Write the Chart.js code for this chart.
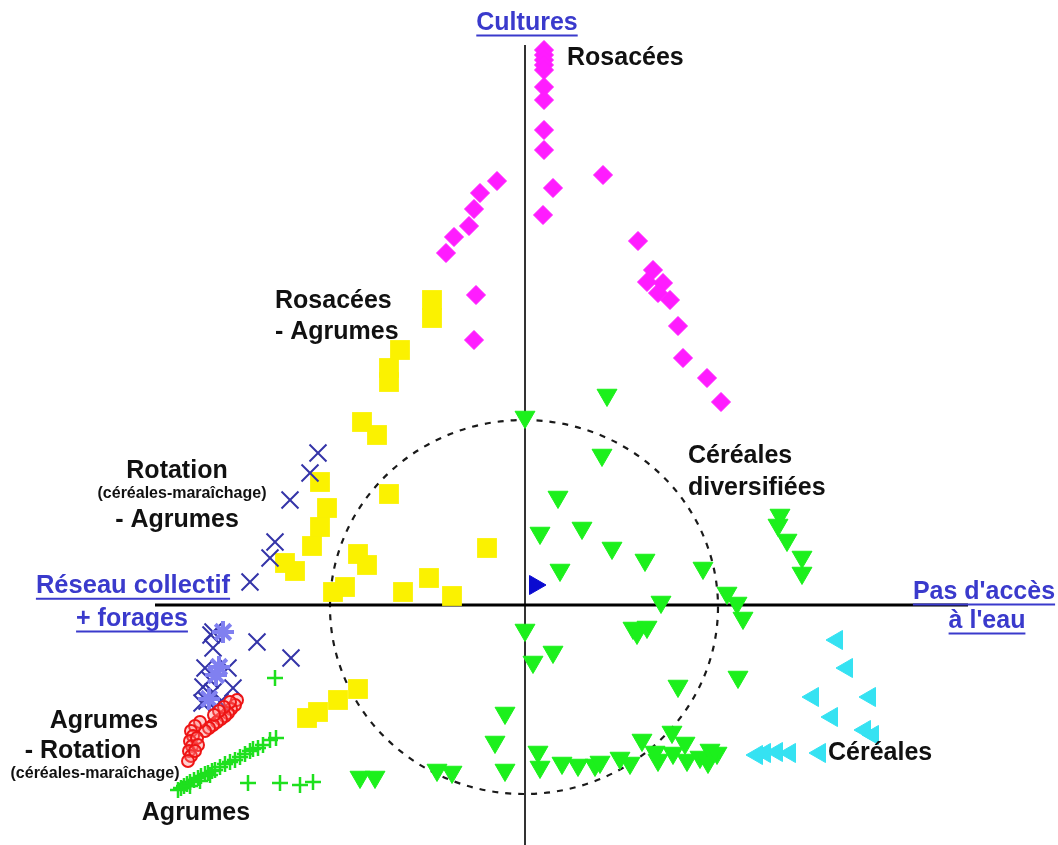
<!DOCTYPE html>
<html>
<head>
<meta charset="utf-8">
<script src="https://cdn.jsdelivr.net/npm/chart.js@4"></script>
<style>
  html, body { margin: 0; padding: 0; background: #fff; }
  #wrap { width: 1058px; height: 845px; }
</style>
</head>
<body>
<div id="wrap"><canvas id="myChart" width="1058" height="845"></canvas></div>
<script>
// factorial plane, x = axis 1, y = axis 2
const rosacees = [
  [0.19, 5.55], [0.19, 5.50], [0.19, 5.45], [0.19, 5.40], [0.19, 5.35], [0.19, 5.18],
  [0.19, 5.05], [0.19, 4.75], [0.19, 4.55], [0.78, 4.30], [0.28, 4.17], [0.18, 3.90],
  [-0.28, 4.24], [-0.45, 4.12], [-0.51, 3.96], [-0.56, 3.79], [-0.71, 3.68], [-0.79, 3.52],
  [-0.49, 3.10], [-0.51, 2.65], [1.13, 3.64], [1.28, 3.35], [1.22, 3.23], [1.38, 3.22],
  [1.33, 3.12], [1.45, 3.05], [1.53, 2.79], [1.58, 2.47], [1.82, 2.27], [1.96, 2.03]
];
const rosaceesAgrumes = [
  [-0.93, 3.05], [-0.93, 2.87], [-1.25, 2.55], [-1.36, 2.37], [-1.36, 2.23], [-1.63, 1.83],
  [-1.48, 1.70], [-2.05, 1.23], [-1.98, 0.97], [-2.05, 0.78], [-2.13, 0.59], [-2.40, 0.42],
  [-2.30, 0.34], [-1.36, 1.11], [-1.67, 0.51], [-1.58, 0.40], [-1.92, 0.13], [-1.80, 0.18],
  [-1.22, 0.13], [-0.96, 0.27], [-0.73, 0.09], [-0.38, 0.57], [-1.67, -0.84], [-1.87, -0.95],
  [-2.07, -1.07], [-2.18, -1.13]
];
const rotationAgrumes = [
  [-2.07, 1.52], [-2.15, 1.32], [-2.35, 1.05], [-2.50, 0.63], [-2.55, 0.47], [-2.75, 0.23],
  [-3.12, -0.27], [-2.68, -0.37], [-2.34, -0.53], [-3.12, -0.43], [-3.20, -0.63], [-2.97, -0.63],
  [-3.22, -0.82], [-2.92, -0.83], [-3.12, -0.87], [-3.23, -0.98], [-3.05, -0.97], [-3.15, -0.75],
  [-3.14, -0.30], [-3.18, -0.96]
];
const rotationAgrumesBis = [[-3.02, -0.27], [-3.09, -0.70], [-3.16, -0.94], [-3.06, -0.62]];
const agrumesRotation = [
  [-2.88, -0.95], [-2.90, -1.00], [-2.94, -1.04], [-2.97, -1.08], [-3.00, -1.11], [-3.04, -1.14],
  [-3.08, -1.17], [-3.12, -1.20], [-3.16, -1.23], [-3.20, -1.26], [-2.95, -0.97], [-3.01, -1.02],
  [-3.06, -1.06], [-3.11, -1.10], [-3.25, -1.17], [-3.30, -1.21], [-3.34, -1.26], [-3.32, -1.31],
  [-3.35, -1.36], [-3.33, -1.41], [-3.36, -1.46], [-3.34, -1.51], [-3.37, -1.56], [-3.28, -1.33],
  [-3.27, -1.40], [-3.30, -1.46]
];
const agrumes = [
  [-2.50, -0.73], [-2.55, -1.35], [-2.49, -1.33], [-2.62, -1.40], [-2.67, -1.43], [-2.72, -1.44],
  [-2.75, -1.46], [-2.80, -1.49], [-2.85, -1.52], [-2.90, -1.55], [-2.95, -1.57], [-3.00, -1.59],
  [-3.05, -1.62], [-3.10, -1.65], [-3.13, -1.66], [-3.17, -1.68], [-3.20, -1.69], [-3.24, -1.71],
  [-3.27, -1.73], [-3.31, -1.75], [-3.35, -1.77], [-3.38, -1.79], [-3.41, -1.81], [-3.44, -1.83],
  [-3.47, -1.85], [-3.15, -1.70], [-3.25, -1.76], [-3.35, -1.81], [-2.77, -1.78], [-2.45, -1.78],
  [-2.25, -1.80], [-2.12, -1.77]
];
const cerealesDiv = [
  [0.82, 2.10], [0.00, 1.88], [0.77, 1.50], [0.33, 1.08], [0.15, 0.72], [0.57, 0.77],
  [0.87, 0.57], [1.20, 0.45], [0.35, 0.35], [1.78, 0.37], [2.55, 0.90], [2.53, 0.80],
  [2.62, 0.65], [2.77, 0.48], [2.77, 0.32], [1.36, 0.03], [2.02, 0.12], [2.12, 0.02],
  [2.18, -0.13], [0.00, -0.25], [1.08, -0.23], [1.22, -0.22], [1.12, -0.28], [0.28, -0.47],
  [0.08, -0.57], [1.53, -0.81], [2.13, -0.72], [-0.20, -1.08], [-0.30, -1.37], [-0.20, -1.65],
  [-0.88, -1.65], [-0.73, -1.67], [-1.65, -1.72], [-1.50, -1.72], [0.13, -1.47], [0.15, -1.62],
  [0.37, -1.58], [0.53, -1.60], [0.70, -1.60], [0.75, -1.57], [0.95, -1.53], [1.05, -1.58],
  [1.17, -1.35], [1.30, -1.47], [1.33, -1.55], [1.47, -1.27], [1.48, -1.48], [1.60, -1.38],
  [1.62, -1.55], [1.75, -1.52], [1.85, -1.45], [1.92, -1.48], [1.83, -1.57]
];
const cereales = [
  [3.12, -0.35], [3.22, -0.63], [2.88, -0.92], [3.45, -0.92], [3.07, -1.12], [3.40, -1.25],
  [3.48, -1.30], [2.32, -1.50], [2.40, -1.48], [2.52, -1.47], [2.65, -1.48], [2.95, -1.48]
];
const centre = [[0.10, 0.20]];

// axes of the plane and the dashed circle
const axeH = [[-3.70, 0], [4.43, 0]];
const axeV = [[0, 5.60], [0, -2.40]];
const cercle = { x: -0.01, y: -0.02, rx: 1.94, ry: 1.87 };

// text labels: [text, x, y, align, size, blue/underlined]
const labels = [
  ['Cultures', 0.02, 5.82, 'center', 25, true],
  ['Rosacées', 0.42, 5.47, 'left', 25, false],
  ['Rosacées', -2.50, 3.04, 'left', 25, false],
  ['- Agrumes', -2.50, 2.73, 'left', 25, false],
  ['Rotation', -3.48, 1.34, 'center', 25, false],
  ['(céréales-maraîchage)', -3.43, 1.11, 'center', 16, false],
  ['- Agrumes', -3.48, 0.85, 'center', 25, false],
  ['Réseau collectif', -3.92, 0.19, 'center', 25.5, true],
  ['+ forages', -3.93, -0.14, 'center', 25, true],
  ["Pas d'accès", 4.59, 0.13, 'center', 25, true],
  ["à l'eau", 4.62, -0.16, 'center', 25, true],
  ['Céréales', 1.63, 1.49, 'left', 25, false],
  ['diversifiées', 1.63, 1.17, 'left', 25, false],
  ['Céréales', 3.03, -1.48, 'left', 25, false],
  ['Agrumes', -4.21, -1.16, 'center', 25, false],
  ['- Rotation', -4.42, -1.46, 'center', 25, false],
  ['(céréales-maraîchage)', -4.30, -1.69, 'center', 16, false],
  ['Agrumes', -3.29, -2.08, 'center', 25, false]
];

const toXY = arr => arr.map(p => ({ x: p[0], y: p[1] }));

const planPlugin = {
  id: 'plan',
  beforeDatasetsDraw(chart) {
    const ctx = chart.ctx, sx = chart.scales.x, sy = chart.scales.y;
    const cx = sx.getPixelForValue(cercle.x), cy = sy.getPixelForValue(cercle.y);
    const rx = sx.getPixelForValue(cercle.x + cercle.rx) - cx;
    const ry = cy - sy.getPixelForValue(cercle.y + cercle.ry);
    ctx.save();
    ctx.beginPath();
    ctx.setLineDash([6, 7]);
    ctx.lineWidth = 2.2;
    ctx.strokeStyle = '#1a1a1a';
    ctx.ellipse(cx, cy, rx, ry, 0, 0, Math.PI * 2);
    ctx.stroke();
    ctx.restore();
  },
  afterDatasetsDraw(chart) {
    const ctx = chart.ctx, sx = chart.scales.x, sy = chart.scales.y;
    ctx.save();
    ctx.textBaseline = 'middle';
    labels.forEach(l => {
      const [txt, x, y, align, size, lien] = l;
      const px = sx.getPixelForValue(x), py = sy.getPixelForValue(y);
      ctx.font = 'bold ' + size + 'px "Liberation Sans", Arial, sans-serif';
      ctx.textAlign = align;
      ctx.fillStyle = lien ? '#3a3acc' : '#111';
      ctx.fillText(txt, px, py);
      if (lien) {
        const w = ctx.measureText(txt).width;
        const x0 = align === 'center' ? px - w / 2 : px;
        ctx.beginPath();
        ctx.lineWidth = 2;
        ctx.strokeStyle = '#3a3acc';
        ctx.moveTo(x0, py + size * 0.5);
        ctx.lineTo(x0 + w, py + size * 0.5);
        ctx.stroke();
      }
    });
    ctx.restore();
  }
};

const pts = (data, style, r, bg, border, bw, rot) => ({
  type: 'scatter',
  data: toXY(data),
  pointStyle: style,
  pointRadius: r,
  pointRotation: rot || 0,
  backgroundColor: bg,
  borderColor: border,
  borderWidth: bw,
  clip: false
});

const ligne = (data, color, w) => ({
  type: 'line',
  data: toXY(data),
  borderColor: color,
  borderWidth: w,
  pointRadius: 0,
  fill: false,
  clip: false
});

chart = new Chart(document.getElementById('myChart'), {
  data: {
    datasets: [
      pts(centre, 'triangle', 11, '#0a0ad0', '#0a0ad0', 1, 90),
      pts(rosacees, 'rectRot', 9.5, '#ff1cff', '#ff1cff', 1),
      pts(cereales, 'triangle', 11, '#35e2f2', '#35e2f2', 1, 270),
      pts(cerealesDiv, 'triangle', 11.5, '#1cf01c', '#1cf01c', 1, 180),
      pts(agrumes, 'cross', 8, '#1ee01e', '#1ee01e', 2.5),
      pts(agrumesRotation, 'circle', 6, 'rgba(255,120,120,0.35)', '#ee1414', 2),
      pts(rotationAgrumesBis, 'star', 11, '#8080f0', '#8080f0', 4),
      pts(rotationAgrumes, 'crossRot', 12, '#3434a8', '#3434a8', 2),
      pts(rosaceesAgrumes, 'rect', 14, '#fbf200', '#fbf200', 0),
      ligne(axeH, '#000', 3),
      ligne(axeV, '#333', 2)
    ]
  },
  options: {
    responsive: false,
    devicePixelRatio: 1,
    animation: false,
    layout: { padding: 0, autoPadding: false },
    scales: {
      x: { type: 'linear', min: -5.25, max: 5.33, display: false },
      y: { type: 'linear', min: -2.40, max: 6.05, display: false }
    },
    plugins: { legend: { display: false }, tooltip: { enabled: false } }
  },
  plugins: [planPlugin]
});
</script>
</body>
</html>
